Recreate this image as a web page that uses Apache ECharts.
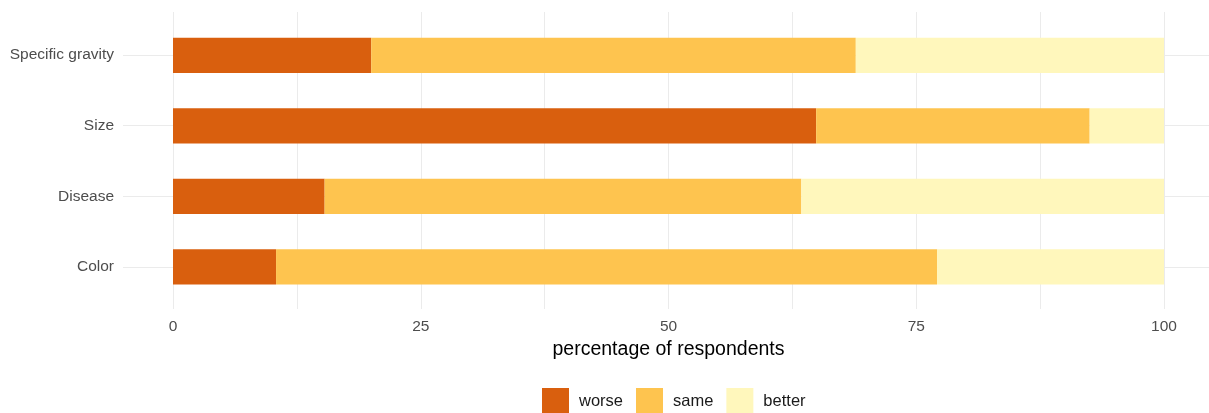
<!DOCTYPE html>
<html>
<head>
<meta charset="utf-8">
<script src="https://cdn.jsdelivr.net/npm/echarts@6/dist/echarts.min.js"></script>
<style>html,body{margin:0;padding:0;background:#fff;}#c{width:1209px;height:413px;}</style>
</head>
<body>
<div id="c"></div>
<script>
var categories = ['Color', 'Disease', 'Size', 'Specific gravity'];
var worse  = [10.4, 15.3, 64.9, 20.0];
var same   = [66.7, 48.1, 27.6, 48.9];
var better = [22.9, 36.6, 7.5, 31.1];
var seriesNames = ['worse', 'same', 'better'];
var xTicks = [0, 25, 50, 75, 100];

var FONT = "'Liberation Sans', Arial, sans-serif";
var chart = echarts.init(document.getElementById('c'), null, {renderer: 'canvas'});
var colors = ['#d95f0e', '#fec44f', '#fff7bc'];
var values = [worse, same, better];

chart.setOption({
  animation: false,
  textStyle: {fontFamily: FONT},
  legend: {
    data: seriesNames,
    top: 388,
    left: 542,
    itemWidth: 27,
    itemHeight: 27,
    itemGap: 13,
    icon: 'rect',
    padding: 0,
    textStyle: {fontSize: 16.5, color: '#1a1a1a', fontFamily: FONT, padding: [0, 0, 0, 5]}
  },
  grid: [
    {left: 173, right: 45, top: 12, height: 297},
    {left: 173, right: 45, top: 20, height: 282},
    {left: 123, right: 0, top: 55, height: 212}
  ],
  xAxis: [
    {
      gridIndex: 0, type: 'value', min: 0, max: 100, interval: 12.5,
      axisLine: {show: false}, axisTick: {show: false},
      splitLine: {show: true, lineStyle: {color: '#ebebeb', width: 1}},
      axisLabel: {
        color: '#4d4d4d', fontSize: 15.5, margin: 10, fontFamily: FONT,
        formatter: function (v) { return xTicks.indexOf(v) >= 0 ? String(v) : ''; }
      },
      name: 'percentage of respondents', nameLocation: 'middle', nameGap: 29,
      nameTextStyle: {color: '#000', fontSize: 19.5, fontFamily: FONT, verticalAlign: 'top'}
    },
    {gridIndex: 1, type: 'value', min: 0, max: 100, show: false},
    {gridIndex: 2, type: 'value', min: 0, max: 1, show: false}
  ],
  yAxis: [
    {gridIndex: 0, type: 'value', show: false},
    {gridIndex: 1, type: 'category', data: categories, show: false},
    {
      gridIndex: 2, type: 'category', data: categories, boundaryGap: false,
      axisLine: {show: false}, axisTick: {show: false},
      splitLine: {show: true, lineStyle: {color: '#ebebeb', width: 1}},
      axisLabel: {color: '#4d4d4d', fontSize: 15.5, margin: 9, fontFamily: FONT}
    }
  ],
  series: seriesNames.map(function (n, i) {
    return {
      name: n, type: 'bar', stack: 'total',
      xAxisIndex: 1, yAxisIndex: 1,
      barWidth: '50%',
      itemStyle: {color: colors[i]},
      data: values[i]
    };
  })
});
</script>
</body>
</html>
